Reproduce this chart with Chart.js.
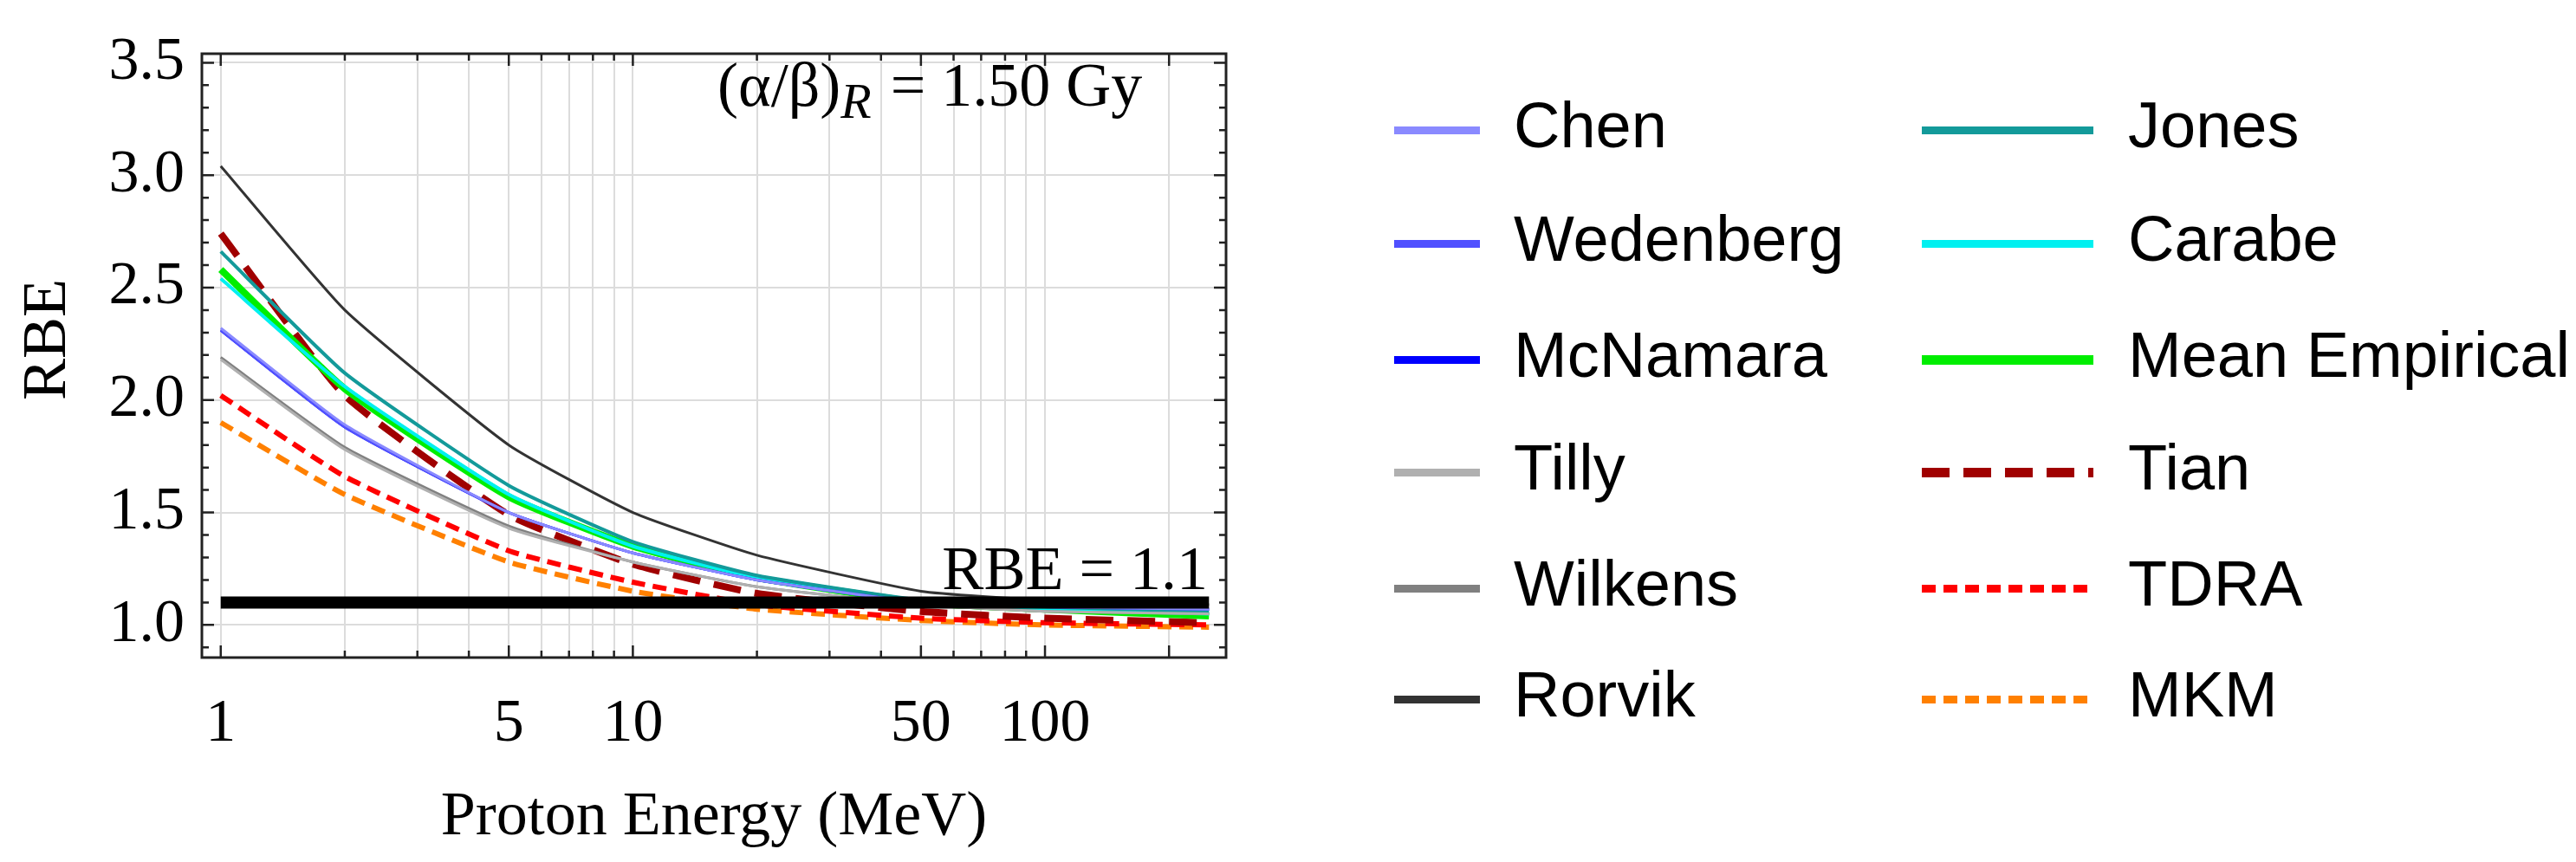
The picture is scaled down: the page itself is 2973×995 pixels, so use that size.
<!DOCTYPE html>
<html>
<head>
<meta charset="utf-8">
<script src="https://cdn.jsdelivr.net/npm/chart.js@4"></script>
<style>
  body { margin: 0; background: #fff; }
  #wrap { position: relative; width: 2973px; height: 995px; }
  .leg { position: absolute; font-family: 'Liberation Sans', Arial, sans-serif; font-size: 74px; color: #000; line-height: 1; }
  .sw { position: absolute; height: 0; }
</style>
</head>
<body>
<div id="wrap">
  <canvas id="myChart-grafico" width="2973" height="995"></canvas>
</div>
<script>
// energias (MeV)
const energias = [1, 2, 5, 10, 20, 50, 100, 250];

const chen      = [2.32, 1.89, 1.50, 1.32, 1.20, 1.10, 1.08, 1.07];
const wedenberg = [2.31, 1.88, 1.50, 1.32, 1.20, 1.10, 1.08, 1.07];
const mcnamara  = [2.31, 1.88, 1.50, 1.32, 1.20, 1.10, 1.08, 1.07];
const tilly     = [2.18, 1.78, 1.43, 1.28, 1.17, 1.09, 1.06, 1.05];
const wilkens   = [2.19, 1.79, 1.44, 1.28, 1.17, 1.09, 1.06, 1.05];
const rorvik    = [3.04, 2.40, 1.80, 1.50, 1.31, 1.15, 1.11, 1.09];
const jones     = [2.66, 2.12, 1.62, 1.37, 1.22, 1.11, 1.08, 1.06];
const carabe    = [2.54, 2.06, 1.58, 1.35, 1.21, 1.10, 1.07, 1.05];
const mean      = [2.58, 2.05, 1.57, 1.35, 1.21, 1.10, 1.07, 1.04];
const tian      = [2.74, 2.02, 1.49, 1.27, 1.14, 1.06, 1.03, 1.01];
const tdra      = [2.02, 1.66, 1.33, 1.19, 1.09, 1.03, 1.01, 1.00];
const mkm       = [1.90, 1.58, 1.28, 1.15, 1.07, 1.02, 1.00, 0.99];
const rbeRef    = [1.1, 1.1];
const rbeRefX   = [1, 250];

const xTicks = [1, 2, 3, 4, 5, 6, 7, 8, 9, 10, 20, 30, 40, 50, 60, 70, 80, 90, 100, 200];
const xLabels = [1, 5, 10, 50, 100];
const yTicks = [1.0, 1.5, 2.0, 2.5, 3.0, 3.5];

// estilos: [nome, dados, cor, largura, traço]
const series = [
  ['Chen', chen, '#8a8aff', 3, []],
  ['Wedenberg', wedenberg, '#5050ff', 3, []],
  ['McNamara', mcnamara, '#0000ff', 3, []],
  ['Tilly', tilly, '#b0b0b0', 3, []],
  ['Wilkens', wilkens, '#808080', 3, []],
  ['Rorvik', rorvik, '#333333', 3, []],
  ['Jones', jones, '#139a9a', 4, []],
  ['Carabe', carabe, '#00f0f0', 4, []],
  ['Mean Empirical', mean, '#00ee00', 8, []],
  ['Tian', tian, '#a00000', 8, [32, 16]],
  ['TDRA', tdra, '#ff0000', 6, [16, 9]],
  ['MKM', mkm, '#ff8000', 6, [16, 9]]
];

const datasets = series.map(s => ({
  label: s[0],
  data: energias.map((e, i) => ({ x: e, y: s[1][i] })),
  borderColor: s[2],
  borderWidth: s[3],
  borderDash: s[4],
  pointRadius: 0,
  tension: 0.15,
  fill: false
}));
datasets.unshift({
  label: 'RBE = 1.1',
  data: rbeRefX.map((e, i) => ({ x: e, y: rbeRef[i] })),
  borderColor: '#000',
  borderWidth: 14,
  pointRadius: 0
});

const serif = 'Liberation Serif';

// moldura, marcas internas e textos
const framePlugin = {
  id: 'frame',
  afterDraw(chart) {
    const { ctx, chartArea: a, scales } = chart;
    ctx.save();
    ctx.strokeStyle = '#222';
    ctx.lineWidth = 3;
    ctx.strokeRect(a.left, a.top, a.right - a.left, a.bottom - a.top);
    ctx.lineWidth = 2.5;
    xTicks.forEach(v => {
      const x = scales.x.getPixelForValue(v);
      const big = xLabels.includes(v) || v === 200;
      const L = big ? 14 : 8;
      ctx.beginPath();
      ctx.moveTo(x, a.bottom); ctx.lineTo(x, a.bottom - L);
      ctx.moveTo(x, a.top); ctx.lineTo(x, a.top + L);
      ctx.stroke();
    });
    for (let k = 9; k <= 35; k++) {
      const v = k / 10;
      const y = scales.y.getPixelForValue(v);
      const L = k % 5 === 0 ? 14 : 8;
      ctx.beginPath();
      ctx.moveTo(a.left, y); ctx.lineTo(a.left + L, y);
      ctx.moveTo(a.right, y); ctx.lineTo(a.right - L, y);
      ctx.stroke();
    }
    ctx.fillStyle = '#000';
    ctx.textBaseline = 'alphabetic';
    ctx.font = '72px "' + serif + '"';
    ctx.textAlign = 'center';
    ctx.fillText('Proton Energy (MeV)', (a.left + a.right) / 2, 963);
    ctx.save();
    ctx.translate(75, 392);
    ctx.rotate(-Math.PI / 2);
    ctx.fillText('RBE', 0, 0);
    ctx.restore();
    ctx.textAlign = 'right';
    ctx.font = '72px "' + serif + '"';
    ctx.fillText('RBE = 1.1', 1394, 680);
    // (α/β)R = 1.50 Gy
    let x = 828, y = 122;
    ctx.textAlign = 'left';
    const p1 = '(α/β)';
    ctx.fillText(p1, x, y); x += ctx.measureText(p1).width;
    ctx.font = 'italic 58px "' + serif + '"';
    ctx.fillText('R', x, y + 14); x += ctx.measureText('R').width + 4;
    ctx.font = '72px "' + serif + '"';
    ctx.fillText(' = 1.50 Gy', x, y);
    ctx.restore();
  }
};

const ctx2 = document.getElementById('myChart-grafico').getContext('2d');
chart = new Chart(ctx2, {
  type: 'line',
  data: { datasets },
  options: {
    responsive: false,
    animation: false,
    layout: { padding: { left: 0, top: 27, right: 1558, bottom: 0 } },
    plugins: { legend: { display: false }, tooltip: { enabled: false } },
    scales: {
      x: {
        type: 'logarithmic',
        min: 0.9, max: 275,
        afterBuildTicks: s => { s.ticks = xTicks.map(v => ({ value: v })); },
        afterFit: s => { s.height = 236; },
        grid: { color: '#dcdcdc', lineWidth: 2, drawTicks: false },
        border: { display: false },
        ticks: {
          autoSkip: false, maxRotation: 0, padding: 36, color: '#000',
          font: { family: serif, size: 70 },
          callback: v => xLabels.includes(v) ? String(v) : ''
        }
      },
      y: {
        min: 0.855, max: 3.54,
        afterBuildTicks: s => { s.ticks = yTicks.map(v => ({ value: v })); },
        afterFit: s => { s.width = 233; },
        grid: { color: '#dcdcdc', lineWidth: 2, drawTicks: false },
        border: { display: false },
        ticks: {
          padding: 20, color: '#000',
          font: { family: serif, size: 70 },
          callback: v => v.toFixed(1)
        }
      }
    }
  },
  plugins: [framePlugin]
});

// legenda em HTML
const wrap = document.getElementById('wrap');
const rowsY = [150, 281, 415, 545, 679, 807];
series.forEach((s, i) => {
  const col = i < 6 ? 0 : 1;
  const row = i % 6;
  const x0 = col ? 2218 : 1609, w = col ? 198 : 99, tx = col ? 2456 : 1747;
  const y = rowsY[row];
  const sw = document.createElement('div');
  sw.className = 'sw';
  const h = s[0] === 'Mean Empirical' || s[0] === 'Tian' ? 11 : 9;
  let bg = s[2];
  if (s[4].length) {
    bg = 'repeating-linear-gradient(90deg,' + s[2] + ' 0 ' + s[4][0] + 'px, transparent ' + s[4][0] + 'px ' + (s[4][0] + s[4][1]) + 'px)';
  }
  sw.style.cssText = 'left:' + x0 + 'px;top:' + (y - h / 2) + 'px;width:' + w + 'px;height:' + h + 'px;background:' + bg;
  wrap.appendChild(sw);
  const t = document.createElement('div');
  t.className = 'leg';
  t.textContent = s[0];
  t.style.left = tx + 'px';
  t.style.top = (y - 42) + 'px';
  wrap.appendChild(t);
});
</script>
</body>
</html>
